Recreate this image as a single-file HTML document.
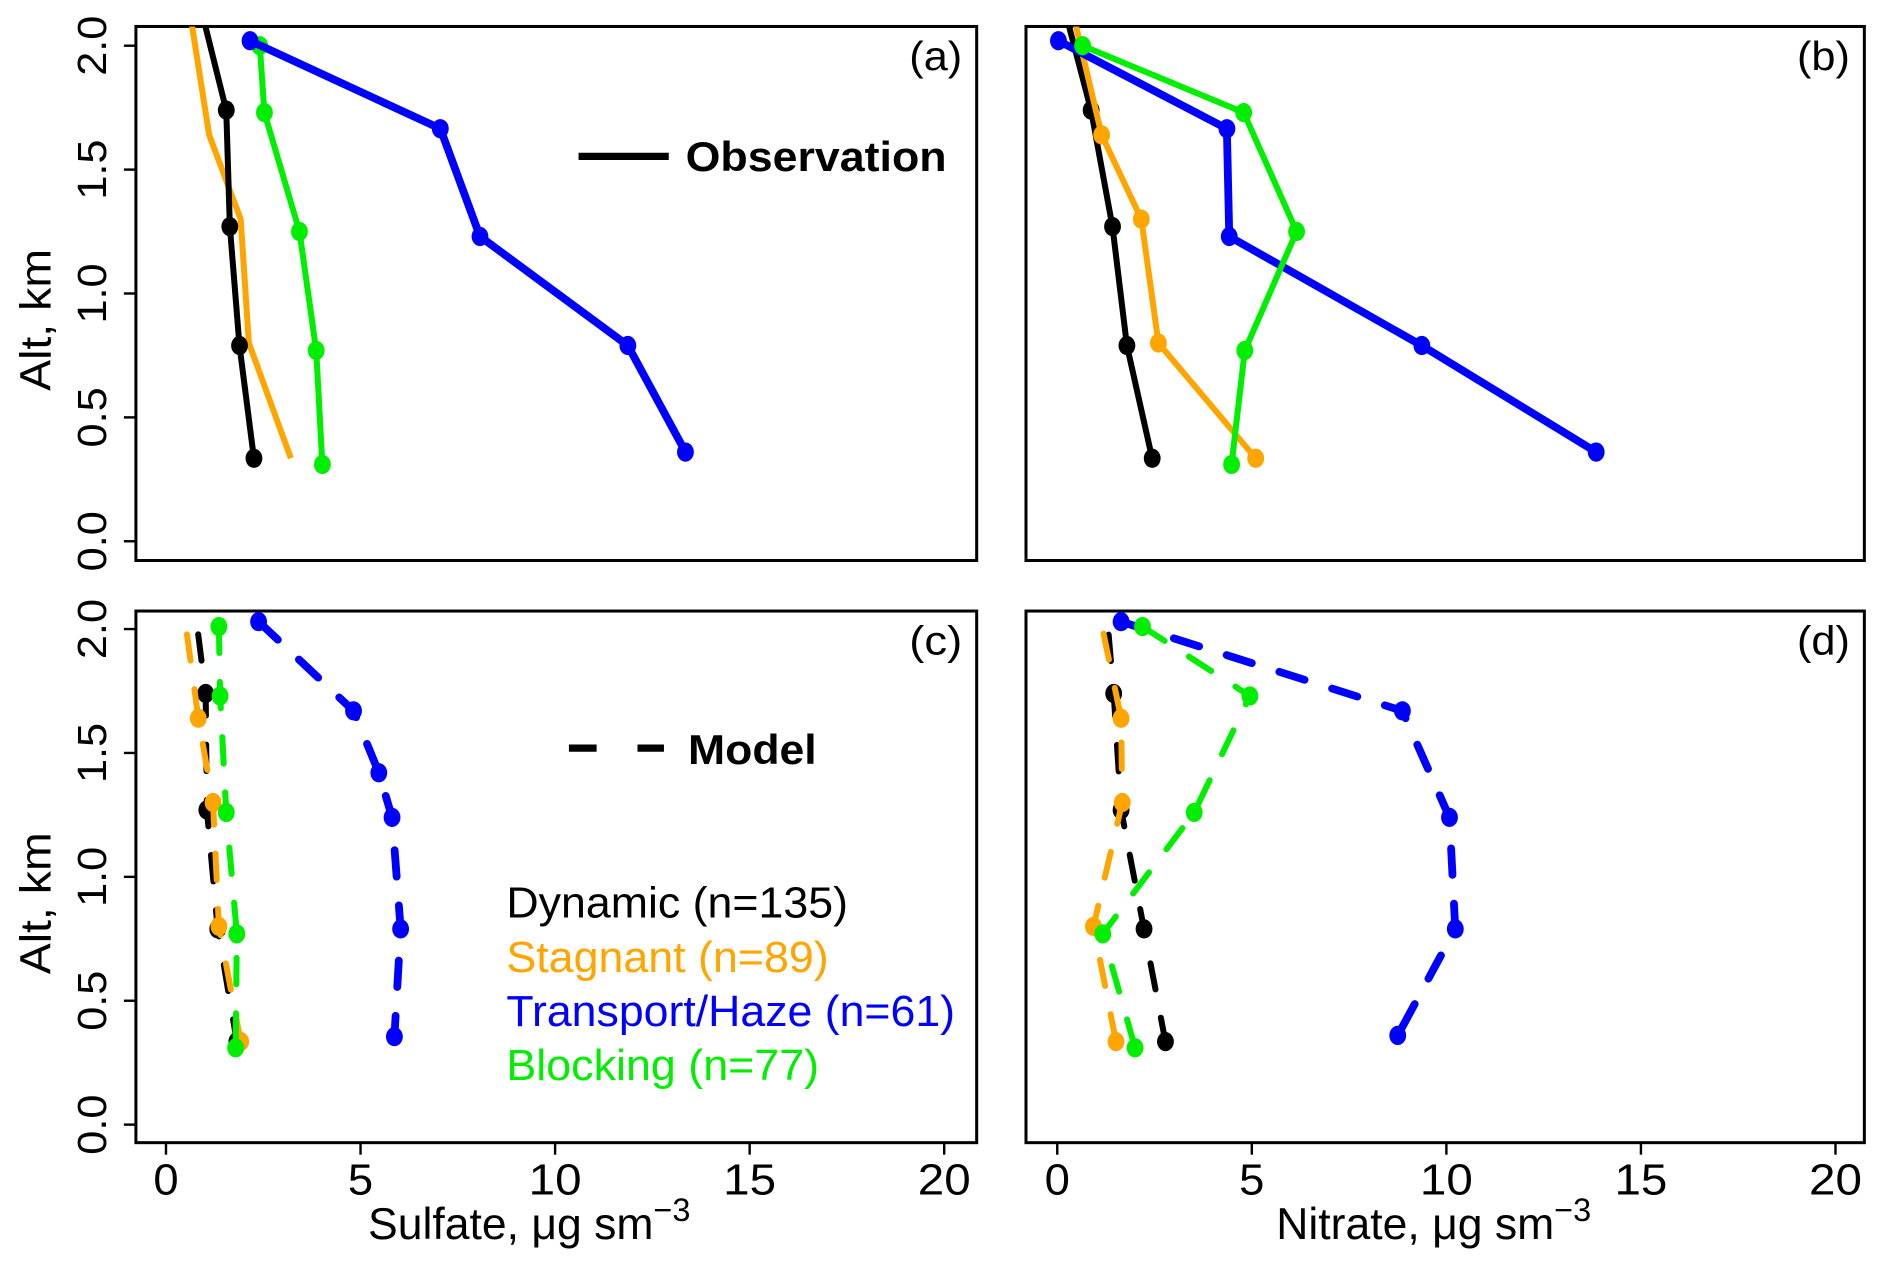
<!DOCTYPE html>
<html><head><meta charset="utf-8"><style>
html,body{margin:0;padding:0;background:#fff;}
svg{display:block;font-family:"Liberation Sans",Arial,sans-serif;}
</style></head><body>
<svg id="chart" width="1886" height="1265" viewBox="0 0 1568 1051.7" xmlns="http://www.w3.org/2000/svg">
<defs>
<clipPath id="cpa"><rect x="113" y="22" width="699" height="444"/></clipPath>
<clipPath id="cpb"><rect x="853" y="22" width="697" height="444"/></clipPath>
<clipPath id="cpc"><rect x="113" y="508" width="699" height="442"/></clipPath>
<clipPath id="cpd"><rect x="853" y="508" width="697" height="442"/></clipPath>
</defs>
<g id="root"></g>
</svg>
<script>
// Altitudes (km) for each profile level
const altTop = [2.2, 1.74, 1.27, 0.79, 0.335];
const altBlue = [2.02, 1.665, 1.23, 0.79, 0.36];
const altGreen = [2.0, 1.73, 1.25, 0.77, 0.31];
const altOrange = [2.2, 1.64, 1.30, 0.80, 0.335];
const altBlueModel = [2.03, 1.67, 1.42, 1.24, 0.79, 0.355];
// (a) observed sulfate
const obsSulfDynamic = [0.82, 1.55, 1.64, 1.89, 2.26];
const obsSulfStagnant = [0.55, 1.11, 1.92, 2.13, 3.21];
const obsSulfTransport = [2.16, 7.05, 8.07, 11.87, 13.35];
const obsSulfBlocking = [2.41, 2.53, 3.43, 3.86, 4.02];
// (b) observed nitrate
const obsNitDynamic = [0.1, 0.87, 1.42, 1.79, 2.44];
const obsNitStagnant = [0.3, 1.14, 2.16, 2.60, 5.10];
const obsNitTransport = [0.03, 4.36, 4.42, 9.37, 13.85];
const obsNitBlocking = [0.65, 4.79, 6.15, 4.82, 4.48];
// (c) model sulfate
const modSulfDynamic = [0.65, 1.02, 1.05, 1.33, 1.82];
const modSulfStagnant = [0.35, 0.83, 1.21, 1.36, 1.92];
const modSulfTransport = [2.38, 4.82, 5.47, 5.81, 6.03, 5.87];
const modSulfBlocking = [1.36, 1.39, 1.55, 1.82, 1.79];
// (d) model nitrate
const modNitDynamic = [1.2, 1.45, 1.64, 2.23, 2.78];
const modNitStagnant = [0.9, 1.64, 1.67, 0.93, 1.51];
const modNitTransport = [1.64, 8.87, 10.08, 10.23, 8.75];
const modNitBlocking = [2.19, 4.95, 3.52, 1.17, 2.0];
const xTicks = [0, 5, 10, 15, 20];
const yTicks = [0, 0.5, 1, 1.5, 2];
const yTickLabels = ["0.0", "0.5", "1.0", "1.5", "2.0"];

const NS = "http://www.w3.org/2000/svg";
const root = document.getElementById('root');
function mk(tag, attrs, parent) {
  const e = document.createElementNS(NS, tag);
  for (const k in attrs) e.setAttribute(k, attrs[k]);
  (parent || root).appendChild(e);
  return e;
}
const panels = {
  a: {x0: 113, x1: 812, y0: 22, y1: 466, zx: 138, zy: 450},
  b: {x0: 853, x1: 1550, y0: 22, y1: 466, zx: 879, zy: 450},
  c: {x0: 113, x1: 812, y0: 508, y1: 950, zx: 138, zy: 935},
  d: {x0: 853, x1: 1550, y0: 508, y1: 950, zx: 879, zy: 935}
};
const XS = 32.35, YS = 206;
function sx(p, v) { return p.zx + v * XS; }
function sy(p, v) { return p.zy - v * YS; }

function drawPanel(key, label, showX, showY) {
  const p = panels[key];
  const g = mk('g', {});
  
  
  const box = mk('rect', {x: p.x0, y: p.y0, width: p.x1 - p.x0, height: p.y1 - p.y0, fill: 'none', stroke: '#000', 'stroke-width': 2.5}, g);
  
  
  if (showY) {
    yTicks.forEach((t, i) => {
      const y = sy(p, t);
      mk('line', {x1: p.x0, x2: p.x0 - 10, y1: y, y2: y, stroke: '#000', 'stroke-width': 2}, g);
      const tx = mk('text', {x: 0, y: 0, transform: `translate(88,${y}) rotate(-90)`, 'text-anchor': 'middle', 'font-size': 34, textLength: 50, lengthAdjust: 'spacingAndGlyphs'}, g);
      tx.textContent = yTickLabels[i];
      
      
    });
    const yt = mk('text', {transform: `translate(42,${(p.y0 + p.y1) / 2 + 22}) rotate(-90)`, 'text-anchor': 'middle', 'font-size': 36, textLength: 118, lengthAdjust: 'spacingAndGlyphs'}, g);
    yt.textContent = 'Alt, km';
    
    
  }
  if (showX) {
    xTicks.forEach(t => {
      const x = sx(p, t);
      mk('line', {x1: x, x2: x, y1: p.y1, y2: p.y1 + 10, stroke: '#000', 'stroke-width': 2}, g);
      const tx = mk('text', {x: x, y: 993, 'text-anchor': 'middle', 'font-size': 36, textLength: t >= 10 ? 44 : 21, lengthAdjust: 'spacingAndGlyphs'}, g);
      tx.textContent = t;
      
      
    });
  }
  const lb = mk('text', {x: p.x1 - 12, y: 58, 'text-anchor': 'end', 'font-size': 34, textLength: 44, lengthAdjust: 'spacingAndGlyphs'}, g);
  lb.setAttribute('y', key === 'a' || key === 'b' ? 58 : 544);
  lb.textContent = label;
  
  
  return g;
}

function drawSeries(key, vals, alts, color, dashed, markerFrom, name) {
  const p = panels[key];
  const g = mk('g', {'clip-path': 'url(#cp' + key + ')'});
  
  
  const pts = vals.map((v, i) => sx(p, v).toFixed(1) + ',' + sy(p, alts[i]).toFixed(1)).join(' ');
  const attrs = {points: pts, fill: 'none', stroke: color, 'stroke-width': color === '#0000ff' ? 6.5 : 5, 'stroke-linejoin': 'round', 'stroke-linecap': dashed ? 'round' : 'butt'};
  if (dashed) attrs['stroke-dasharray'] = '22 24';
  const pl = mk('polyline', attrs, g);
  
  
  vals.forEach((v, i) => {
    if (i < markerFrom) return;
    const c = mk('ellipse', {cx: sx(p, v), cy: sy(p, alts[i]), rx: 7, ry: 8, fill: color}, g);
    
    
  });
}

drawPanel('a', '(a)', false, true);
drawPanel('b', '(b)', false, false);
drawPanel('c', '(c)', true, true);
drawPanel('d', '(d)', true, false);

const BK = '#000000', OR = '#ffa500', BL = '#0000ff', GR = '#00ee00';
drawSeries('a', obsSulfStagnant, altOrange, OR, false, 99, 'obs-sulfate-stagnant');
drawSeries('a', obsSulfDynamic, altTop, BK, false, 1, 'obs-sulfate-dynamic');
drawSeries('a', obsSulfBlocking, altGreen, GR, false, 0, 'obs-sulfate-blocking');
drawSeries('a', obsSulfTransport, altBlue, BL, false, 0, 'obs-sulfate-transport');

drawSeries('b', obsNitDynamic, altTop, BK, false, 1, 'obs-nitrate-dynamic');
drawSeries('b', obsNitStagnant, altOrange, OR, false, 1, 'obs-nitrate-stagnant');
drawSeries('b', obsNitTransport, altBlue, BL, false, 0, 'obs-nitrate-transport');
drawSeries('b', obsNitBlocking, altGreen, GR, false, 0, 'obs-nitrate-blocking');

drawSeries('c', modSulfDynamic, altTop, BK, true, 1, 'model-sulfate-dynamic');
drawSeries('c', modSulfStagnant, altOrange, OR, true, 1, 'model-sulfate-stagnant');
drawSeries('c', modSulfBlocking, [2.01, 1.73, 1.26, 0.77, 0.31], GR, true, 0, 'model-sulfate-blocking');
drawSeries('c', modSulfTransport, altBlueModel, BL, true, 0, 'model-sulfate-transport');

drawSeries('d', modNitDynamic, altTop, BK, true, 1, 'model-nitrate-dynamic');
drawSeries('d', modNitStagnant, altOrange, OR, true, 1, 'model-nitrate-stagnant');
drawSeries('d', modNitTransport, [2.03, 1.67, 1.24, 0.79, 0.36], BL, true, 0, 'model-nitrate-transport');
drawSeries('d', modNitBlocking, [2.01, 1.73, 1.26, 0.77, 0.31], GR, true, 0, 'model-nitrate-blocking');

// Line-type legends
const lgObs = mk('g', {});


mk('line', {x1: 481, x2: 556, y1: 130, y2: 130, stroke: '#000', 'stroke-width': 6}, lgObs);
const to = mk('text', {x: 570, y: 142, 'font-size': 35, 'font-weight': 'bold', textLength: 217, lengthAdjust: 'spacingAndGlyphs'}, lgObs);
to.textContent = 'Observation';

const lgMod = mk('g', {});


mk('line', {x1: 473, x2: 552, y1: 622, y2: 622, stroke: '#000', 'stroke-width': 6, 'stroke-dasharray': '23 34'}, lgMod);
const tm = mk('text', {x: 572, y: 635, 'font-size': 35, 'font-weight': 'bold', textLength: 107, lengthAdjust: 'spacingAndGlyphs'}, lgMod);
tm.textContent = 'Model';

// Category legend
const legTexts = ['Dynamic (n=135)', 'Stagnant (n=89)', 'Transport/Haze (n=61)', 'Blocking (n=77)'];
const legColors = [BK, OR, BL, GR];
const legWidths = [284, 268, 373, 260];
legTexts.forEach((t, i) => {
  const e = mk('text', {x: 421, y: 763 + i * 45, 'font-size': 36, fill: legColors[i], textLength: legWidths[i], lengthAdjust: 'spacingAndGlyphs'});
  e.textContent = t;
  
  
});

// X axis titles
function xTitle(cx, name, w) {
  const t = mk('text', {x: cx, y: 1030, 'text-anchor': 'middle', 'font-size': 37});
  
  
  const s1 = mk('tspan', {}, t); s1.textContent = (name.indexOf('sulfate') >= 0 ? 'Sulfate' : 'Nitrate') + ', \u03bcg sm';
  const s2 = mk('tspan', {dy: -15, 'font-size': 27}, t); s2.textContent = '\u22123';
}
xTitle(440, 'x-axis-title-sulfate');
xTitle(1192, 'x-axis-title-nitrate');
</script>
</body></html>
